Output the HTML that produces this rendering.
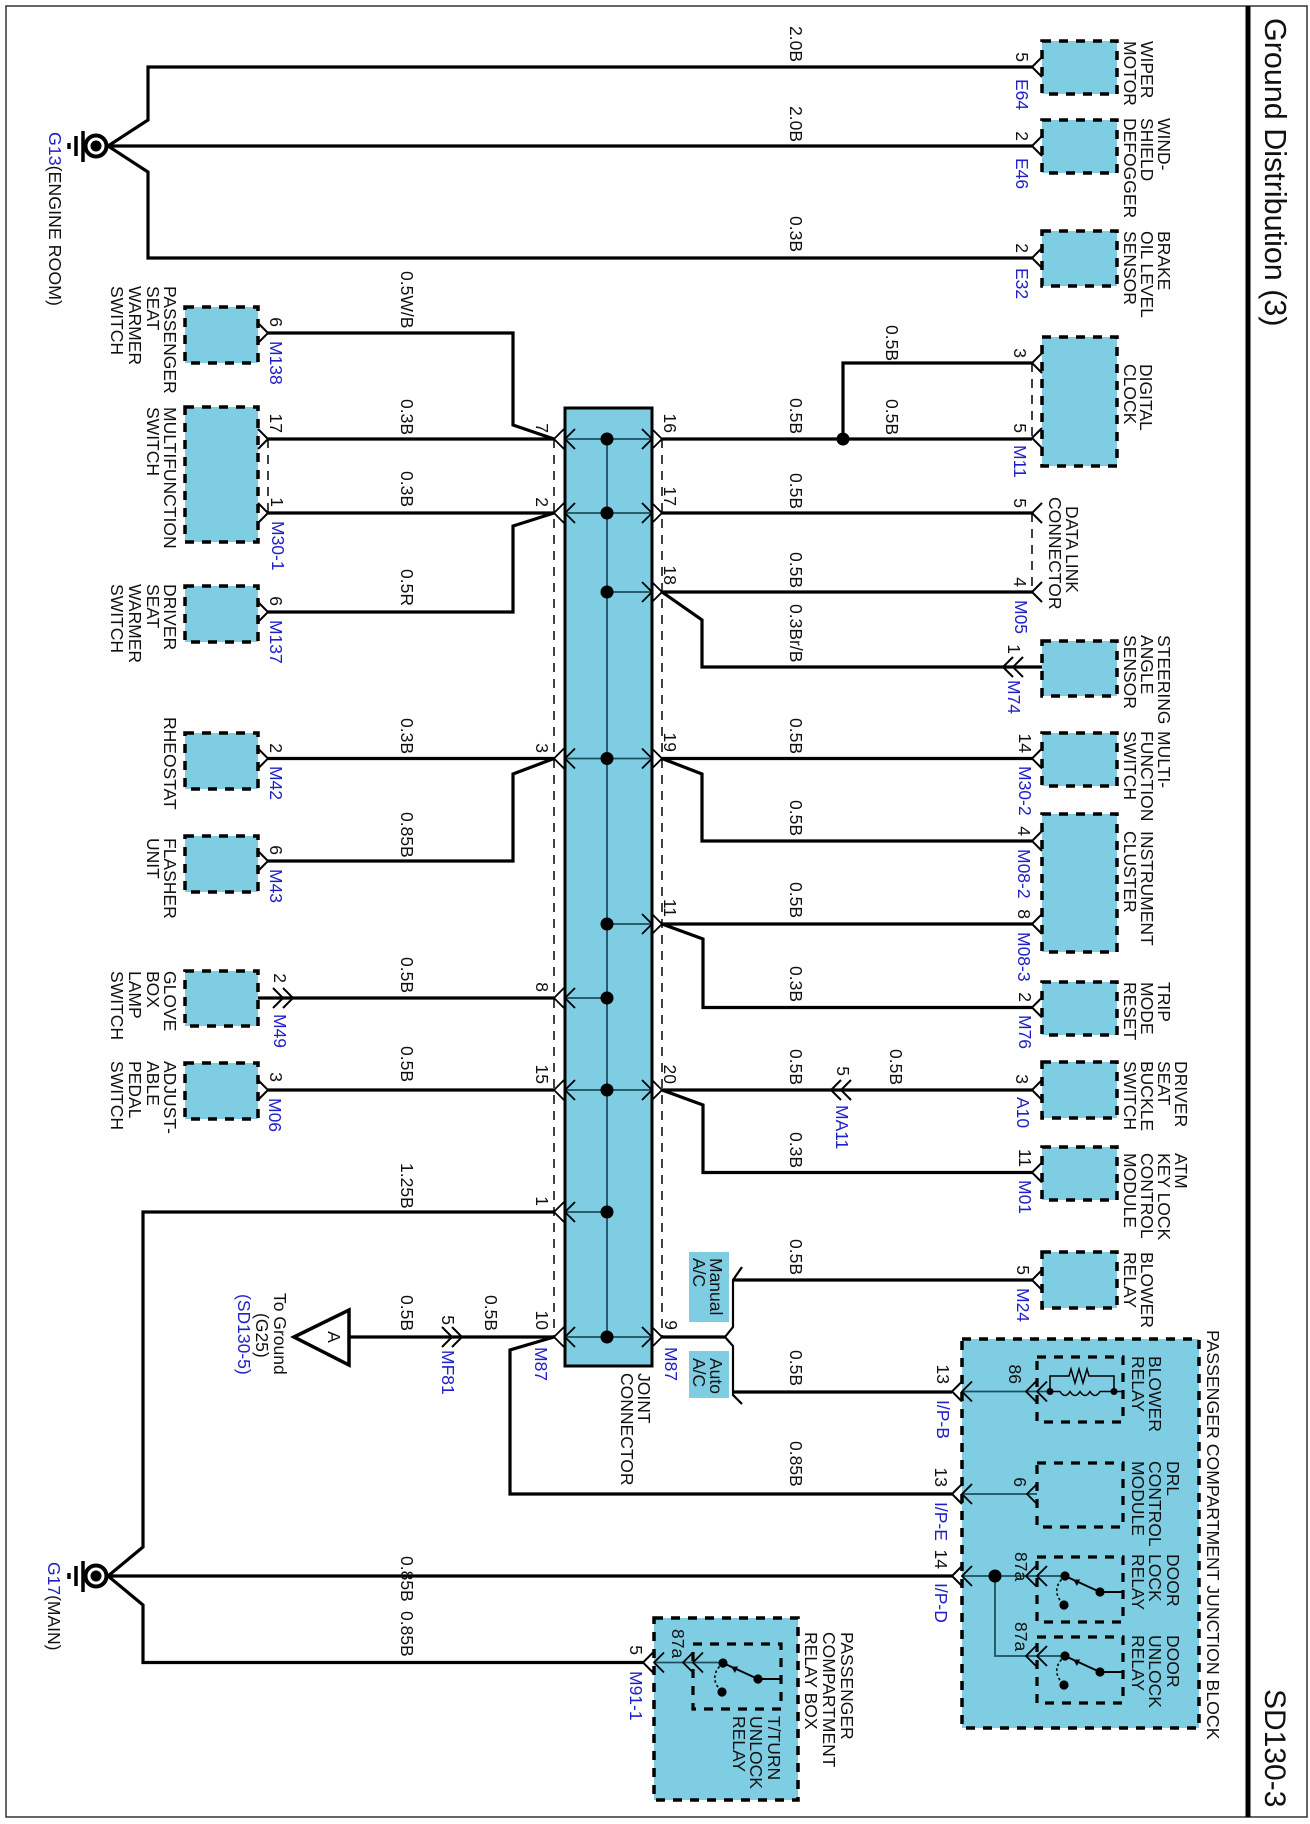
<!DOCTYPE html>
<html><head><meta charset="utf-8"><title>Ground Distribution (3)</title>
<style>
html,body{margin:0;padding:0;background:#fff}
svg{display:block}
text{font-family:"Liberation Sans",sans-serif;font-size:17.5px;fill:#111}
.b{fill:#2020c8}
.e{text-anchor:end}
.m{text-anchor:middle}
.w{fill:none;stroke:#000;stroke-width:3.2;stroke-linejoin:miter}
.t{fill:none;stroke:#1d4f60;stroke-width:1.8}
.k{fill:none;stroke:#000;stroke-width:1.8}
.p{fill:none;stroke:#000;stroke-width:2}
.d{fill:none;stroke:#000;stroke-width:1.5;stroke-dasharray:9 7}
.x{fill:#7fcde3;stroke:#000;stroke-width:3.5;stroke-dasharray:9 8}
.y{fill:none;stroke:#000;stroke-width:3.2;stroke-dasharray:9 8}
</style></head><body>
<svg width="1310" height="1824" viewBox="0 0 1310 1824" xmlns="http://www.w3.org/2000/svg">
<defs>
<path id="c" d="M10,-10L0,0L10,10"/>
<path id="r" d="M-10,-10L0,0L-10,10"/>
<g id="rl">
<path d="M35,16H58M0,0L35,16" fill="none" stroke="#000" stroke-width="2"/>
<path d="M0,0Q-16,14 -1,29" fill="none" stroke="#000" stroke-width="1.6" stroke-dasharray="2.5 2.5"/>
<path d="M8,3.6L15,3.5L12,10Z" fill="#000"/>
<circle cx="0" cy="0" r="4.6" fill="#000"/><circle cx="35" cy="16" r="4.6" fill="#000"/><circle cx="-1" cy="29" r="4.6" fill="#000"/>
</g>
<g id="gnd">
<circle cx="0" cy="0" r="10.5" fill="#fff" stroke="#000" stroke-width="4"/><circle cx="0" cy="0" r="5.5" fill="#000"/>
<path d="M-13,-15V16M-20,-10V10M-27,-3V3" fill="none" stroke="#000" stroke-width="3.5"/>
</g>
</defs>
<rect width="1310" height="1824" fill="#fff"/>
<rect x="6" y="6" width="1301" height="1811" fill="none" stroke="#333" stroke-width="1.5"/>
<rect x="1245.5" y="6" width="5" height="1811" fill="#000"/>
<text style="font-size:30.5px" transform="translate(1265 18)rotate(90)">Ground Distribution (3)</text>
<text style="font-size:30px" transform="translate(1265 1689)rotate(90)">SD130-3</text>

<!-- boxes right -->
<g class="x">
<rect x="1042" y="41" width="75" height="53"/>
<rect x="1042" y="120" width="75" height="53"/>
<rect x="1042" y="231" width="75" height="55"/>
<rect x="1042" y="337" width="75" height="129"/>
<rect x="1042" y="641" width="75" height="55"/>
<rect x="1042" y="733" width="75" height="53"/>
<rect x="1042" y="814" width="75" height="138"/>
<rect x="1042" y="982" width="75" height="53"/>
<rect x="1042" y="1062" width="75" height="56"/>
<rect x="1042" y="1147" width="75" height="53"/>
<rect x="1042" y="1252" width="75" height="56"/>
<!-- boxes left -->
<rect x="185" y="307" width="73" height="56"/>
<rect x="185" y="407" width="73" height="135"/>
<rect x="185" y="586" width="73" height="56"/>
<rect x="185" y="733" width="73" height="56"/>
<rect x="185" y="836" width="73" height="56"/>
<rect x="185" y="971" width="73" height="55"/>
<rect x="185" y="1063" width="73" height="56"/>
<!-- block boxes -->
<rect x="962" y="1339" width="237" height="389"/>
<rect x="654" y="1618" width="144" height="182"/>
</g>
<g class="y">
<rect x="1037" y="1357" width="86" height="65"/>
<rect x="1037" y="1463" width="86" height="64"/>
<rect x="1037" y="1557" width="86" height="65"/>
<rect x="1037" y="1637" width="86" height="66"/>
<rect x="693" y="1644" width="88" height="65"/>
</g>
<rect x="689" y="1252" width="40" height="70" fill="#7fcde3"/>
<rect x="689" y="1351" width="40" height="47" fill="#7fcde3"/>

<!-- joint connector -->
<rect x="565" y="408" width="87" height="958" fill="#7fcde3" stroke="#000" stroke-width="3"/>
<path class="d" d="M554,439V1337M662,439V1337M268,439V513M1032,363V438M1032,513V592"/>
<path class="t" d="M607,439V1337M565,439H652M565,513H652M607,592H652M565,758.5H652M607,924H652M565,998H607M565,1090H652M565,1212H607M565,1337H652"/>
<g fill="#000">
<circle cx="607" cy="439" r="6.5"/><circle cx="607" cy="513" r="6.5"/><circle cx="607" cy="592" r="6.5"/><circle cx="607" cy="758.5" r="6.5"/><circle cx="607" cy="924" r="6.5"/><circle cx="607" cy="998" r="6.5"/><circle cx="607" cy="1090" r="6.5"/><circle cx="607" cy="1212" r="6.5"/><circle cx="607" cy="1337" r="6.5"/>
<circle cx="843" cy="439" r="6.5"/>
</g>
<g class="k">
<use href="#c" x="565" y="439"/><use href="#c" x="565" y="513"/><use href="#c" x="565" y="758.5"/><use href="#c" x="565" y="998"/><use href="#c" x="565" y="1090"/><use href="#c" x="565" y="1212"/><use href="#c" x="565" y="1337"/>
<use href="#c" x="554" y="439"/><use href="#c" x="554" y="513"/><use href="#c" x="554" y="758.5"/><use href="#c" x="554" y="998"/><use href="#c" x="554" y="1090"/><use href="#c" x="554" y="1212"/><use href="#c" x="554" y="1337"/>
<use href="#r" x="652" y="439"/><use href="#r" x="652" y="513"/><use href="#r" x="652" y="592"/><use href="#r" x="652" y="758.5"/><use href="#r" x="652" y="924"/><use href="#r" x="652" y="1090"/><use href="#r" x="652" y="1337"/>
<use href="#r" x="662" y="439"/><use href="#r" x="662" y="513"/><use href="#r" x="662" y="592"/><use href="#r" x="662" y="758.5"/><use href="#r" x="662" y="924"/><use href="#r" x="662" y="1090"/><use href="#r" x="662" y="1337"/>
</g>

<!-- wires -->
<g class="w">
<path d="M1032,67H148V120L108,146L148,172V258H1032M108,146H1032"/>
<path d="M268,333H513V425L554,439M268,439H554M268,513H554M268,612H513V526L554,513"/>
<path d="M268,758.5H554M268,861H513V774L554,758.5M258,998H554M268,1090H554"/>
<path d="M554,1212H143V1547L108,1576L143,1605V1662.5H643M108,1576H952"/>
<path d="M349,1337H554M554,1337L510,1350V1494H952"/>
<path d="M662,439H1032M843,439V363H1032M662,513H1032M662,592H1032M662,592L702,620V667H1042"/>
<path d="M662,758.5H1032M662,758.5L702,774V841H1032M662,924H1032M662,924L703,939V1007.5H1032M662,1090H1032M662,1090L703,1105V1172.5H1032"/>
<path d="M662,1337H725M733,1280H1032M733,1392H952"/>
</g>
<path d="M725,1337L733,1327V1280L742,1267M725,1337L733,1346V1395L742,1404" fill="none" stroke="#000" stroke-width="2.2"/>

<!-- ground symbols -->
<use href="#gnd" x="96" y="146"/>
<use href="#gnd" x="96" y="1576"/>
<!-- triangle -->
<path d="M294,1337L349,1310V1365Z" fill="#fff" stroke="#000" stroke-width="3.5"/>
<text class="m" transform="translate(322 1337)rotate(90)" dy="-6">A</text>

<!-- pins -->
<g class="p">
<use href="#c" x="1032" y="67"/><use href="#c" x="1032" y="146"/><use href="#c" x="1032" y="258"/><use href="#c" x="1032" y="363"/><use href="#c" x="1032" y="438"/><use href="#c" x="1032" y="513"/><use href="#c" x="1032" y="592"/>
<use href="#c" x="1032" y="758.5"/><use href="#c" x="1032" y="841"/><use href="#c" x="1032" y="924"/><use href="#c" x="1032" y="1007.5"/><use href="#c" x="1032" y="1090"/><use href="#c" x="1032" y="1172.5"/><use href="#c" x="1032" y="1280"/>
<use href="#r" x="268" y="333"/><use href="#r" x="268" y="439"/><use href="#r" x="268" y="513"/><use href="#r" x="268" y="612"/><use href="#r" x="268" y="758.5"/><use href="#r" x="268" y="861"/><use href="#r" x="268" y="1090"/>
<use href="#r" x="283" y="998"/><use href="#r" x="293" y="998"/>
<use href="#c" x="1003" y="667"/><use href="#c" x="1013" y="667"/>
<use href="#c" x="831" y="1090"/><use href="#c" x="841" y="1090"/>
<use href="#r" x="452" y="1337"/><use href="#r" x="462" y="1337"/>
<use href="#c" x="952" y="1391.5"/><use href="#c" x="952" y="1494"/><use href="#c" x="952" y="1576"/><use href="#c" x="643" y="1662.5"/>
</g>

<!-- junction block interior -->
<path class="t" d="M962,1391.5H1050M962,1494H1037M962,1576H1065M995,1576V1656H1065M654,1662.5H723"/>
<circle cx="995" cy="1576" r="6.5" fill="#000"/>
<g class="k">
<use href="#c" x="962" y="1391.5"/><use href="#c" x="962" y="1494"/><use href="#c" x="962" y="1576"/><use href="#c" x="654" y="1662.5"/>
<use href="#c" x="1026" y="1391.5"/><use href="#c" x="1037" y="1391.5"/>
<use href="#c" x="1027" y="1494"/>
<use href="#c" x="1026" y="1576"/><use href="#c" x="1037" y="1576"/>
<use href="#c" x="1026" y="1656"/><use href="#c" x="1037" y="1656"/>
<use href="#c" x="683" y="1662.5"/><use href="#c" x="693" y="1662.5"/>
</g>
<path d="M1050,1391.5H1060q5,8 10,0q5,8 10,0q5,8 10,0q5,8 10,0H1123" fill="none" stroke="#000" stroke-width="1.5"/>
<path d="M1050,1391.5V1376H1069l2,-7l4,14l4,-14l4,14l4,-14l2,7H1114V1391.5" fill="none" stroke="#000" stroke-width="1.5"/>
<circle cx="1050" cy="1391.5" r="3.5" fill="#000"/><circle cx="1114" cy="1391.5" r="3.5" fill="#000"/>
<use href="#rl" x="1065" y="1576"/>
<use href="#rl" x="1065" y="1656"/>
<use href="#rl" x="723" y="1663"/>

<!-- wire labels, right column -->
<text transform="translate(790 26)rotate(90)">2.0B</text>
<text transform="translate(790 106)rotate(90)">2.0B</text>
<text transform="translate(790 216)rotate(90)">0.3B</text>
<text transform="translate(790 398)rotate(90)">0.5B</text>
<text transform="translate(790 473)rotate(90)">0.5B</text>
<text transform="translate(790 552)rotate(90)">0.5B</text>
<text transform="translate(790 604)rotate(90)">0.3Br/B</text>
<text transform="translate(790 718)rotate(90)">0.5B</text>
<text transform="translate(790 800)rotate(90)">0.5B</text>
<text transform="translate(790 882)rotate(90)">0.5B</text>
<text transform="translate(790 966)rotate(90)">0.3B</text>
<text transform="translate(790 1049)rotate(90)">0.5B</text>
<text transform="translate(790 1132)rotate(90)">0.3B</text>
<text transform="translate(790 1239)rotate(90)">0.5B</text>
<text transform="translate(790 1350)rotate(90)">0.5B</text>
<text transform="translate(790 1441)rotate(90)">0.85B</text>
<text transform="translate(886 325)rotate(90)">0.5B</text>
<text transform="translate(886 399)rotate(90)">0.5B</text>
<text transform="translate(890 1049)rotate(90)">0.5B</text>
<!-- wire labels, left column -->
<text transform="translate(401 271)rotate(90)">0.5W/B</text>
<text transform="translate(401 399)rotate(90)">0.3B</text>
<text transform="translate(401 471)rotate(90)">0.3B</text>
<text transform="translate(401 569)rotate(90)">0.5R</text>
<text transform="translate(401 718)rotate(90)">0.3B</text>
<text transform="translate(401 812)rotate(90)">0.85B</text>
<text transform="translate(401 957)rotate(90)">0.5B</text>
<text transform="translate(401 1046)rotate(90)">0.5B</text>
<text transform="translate(401 1163)rotate(90)">1.25B</text>
<text transform="translate(401 1295)rotate(90)">0.5B</text>
<text transform="translate(485 1295)rotate(90)">0.5B</text>
<text transform="translate(401 1556)rotate(90)">0.85B</text>
<text transform="translate(401 1611)rotate(90)">0.85B</text>

<!-- joint pin numbers -->
<g class="e">
<text transform="translate(536 433)rotate(90)">7</text>
<text transform="translate(536 507)rotate(90)">2</text>
<text transform="translate(536 753)rotate(90)">3</text>
<text transform="translate(536 992)rotate(90)">8</text>
<text transform="translate(536 1084)rotate(90)">15</text>
<text transform="translate(536 1206)rotate(90)">1</text>
<text transform="translate(536 1330)rotate(90)">10</text>
<text transform="translate(664 433)rotate(90)">16</text>
<text transform="translate(664 506)rotate(90)">17</text>
<text transform="translate(664 585)rotate(90)">18</text>
<text transform="translate(664 752)rotate(90)">19</text>
<text transform="translate(664 917)rotate(90)">11</text>
<text transform="translate(664 1084)rotate(90)">20</text>
<text transform="translate(665 1330)rotate(90)">9</text>
<!-- right pins -->
<text transform="translate(1016 62)rotate(90)">5</text>
<text transform="translate(1016 141)rotate(90)">2</text>
<text transform="translate(1016 253)rotate(90)">2</text>
<text transform="translate(1014 358)rotate(90)">3</text>
<text transform="translate(1014 433)rotate(90)">5</text>
<text transform="translate(1014 508)rotate(90)">5</text>
<text transform="translate(1014 587)rotate(90)">4</text>
<text transform="translate(1008 654)rotate(90)">1</text>
<text transform="translate(1019 753)rotate(90)">14</text>
<text transform="translate(1018 836)rotate(90)">4</text>
<text transform="translate(1018 919)rotate(90)">8</text>
<text transform="translate(1019 1002)rotate(90)">2</text>
<text transform="translate(1016 1084)rotate(90)">3</text>
<text transform="translate(1019 1167)rotate(90)">11</text>
<text transform="translate(1017 1275)rotate(90)">5</text>
<!-- left pins -->
<text transform="translate(270 327)rotate(90)">6</text>
<text transform="translate(270 433)rotate(90)">17</text>
<text transform="translate(271 507)rotate(90)">1</text>
<text transform="translate(270 606)rotate(90)">6</text>
<text transform="translate(270 753)rotate(90)">2</text>
<text transform="translate(270 855)rotate(90)">6</text>
<text transform="translate(274 983)rotate(90)">2</text>
<text transform="translate(270 1082)rotate(90)">3</text>
<!-- others -->
<text transform="translate(442 1325)rotate(90)">5</text>
<text transform="translate(837 1076)rotate(90)">5</text>
<text transform="translate(937 1384)rotate(90)">13</text>
<text transform="translate(935 1487)rotate(90)">13</text>
<text transform="translate(935 1569)rotate(90)">14</text>
<text transform="translate(1009 1384)rotate(90)">86</text>
<text transform="translate(1014 1487)rotate(90)">6</text>
<text transform="translate(630 1655)rotate(90)">5</text>
</g>
<text transform="translate(1015 1552)rotate(90)">87a</text>
<text transform="translate(1015 1622)rotate(90)">87a</text>
<text transform="translate(672 1629)rotate(90)">87a</text>

<!-- blue connector codes -->
<g class="b">
<text class="b" transform="translate(1016 79)rotate(90)">E64</text>
<text class="b" transform="translate(1016 158)rotate(90)">E46</text>
<text class="b" transform="translate(1016 268)rotate(90)">E32</text>
<text class="b" transform="translate(1014 445)rotate(90)">M11</text>
<text class="b" transform="translate(1015 600)rotate(90)">M05</text>
<text class="b" transform="translate(1008 680)rotate(90)">M74</text>
<text class="b" transform="translate(1019 766)rotate(90)">M30-2</text>
<text class="b" transform="translate(1018 849)rotate(90)">M08-2</text>
<text class="b" transform="translate(1018 932)rotate(90)">M08-3</text>
<text class="b" transform="translate(1019 1015)rotate(90)">M76</text>
<text class="b" transform="translate(1017 1097)rotate(90)">A10</text>
<text class="b" transform="translate(1019 1180)rotate(90)">M01</text>
<text class="b" transform="translate(1017 1288)rotate(90)">M24</text>
<text class="b" transform="translate(270 341)rotate(90)">M138</text>
<text class="b" transform="translate(272 521)rotate(90)">M30-1</text>
<text class="b" transform="translate(270 620)rotate(90)">M137</text>
<text class="b" transform="translate(270 766)rotate(90)">M42</text>
<text class="b" transform="translate(270 869)rotate(90)">M43</text>
<text class="b" transform="translate(274 1014)rotate(90)">M49</text>
<text class="b" transform="translate(269 1098)rotate(90)">M06</text>
<text class="b" transform="translate(442 1350)rotate(90)">MF81</text>
<text class="b" transform="translate(836 1105)rotate(90)">MA11</text>
<text class="b" transform="translate(535 1347)rotate(90)">M87</text>
<text class="b" transform="translate(665 1347)rotate(90)">M87</text>
<text class="b" transform="translate(937 1400)rotate(90)">I/P-B</text>
<text class="b" transform="translate(935 1502)rotate(90)">I/P-E</text>
<text class="b" transform="translate(935 1583)rotate(90)">I/P-D</text>
<text class="b" transform="translate(630 1671)rotate(90)">M91-1</text>
<text class="b" transform="translate(238 1294)rotate(90)">(SD130-5)</text>
</g>
<text style="font-size:17.8px" transform="translate(49 132)rotate(90)"><tspan class="b">G13</tspan>(ENGINE ROOM)</text>
<text transform="translate(48 1562)rotate(90)"><tspan class="b">G17</tspan>(MAIN)</text>
<text transform="translate(274 1293)rotate(90)">To Ground</text>
<text transform="translate(256 1313)rotate(90)">(G25)</text>

<!-- component names, right -->
<text transform="translate(1141 41)rotate(90)">WIPER</text><text transform="translate(1124 41)rotate(90)">MOTOR</text>
<text transform="translate(1158 118)rotate(90)">WIND-</text><text transform="translate(1141 118)rotate(90)">SHIELD</text><text transform="translate(1124 118)rotate(90)">DEFOGGER</text>
<text transform="translate(1158 231)rotate(90)">BRAKE</text><text transform="translate(1141 231)rotate(90)">OIL LEVEL</text><text transform="translate(1124 231)rotate(90)">SENSOR</text>
<text transform="translate(1140 364)rotate(90)">DIGITAL</text><text transform="translate(1124 364)rotate(90)">CLOCK</text>
<text transform="translate(1066 506)rotate(90)">DATA LINK</text><text transform="translate(1049 497)rotate(90)">CONNECTOR</text>
<text transform="translate(1158 635)rotate(90)">STEERING</text><text transform="translate(1141 635)rotate(90)">ANGLE</text><text transform="translate(1124 635)rotate(90)">SENSOR</text>
<text transform="translate(1158 731)rotate(90)">MULTI-</text><text transform="translate(1141 731)rotate(90)">FUNCTION</text><text transform="translate(1124 731)rotate(90)">SWITCH</text>
<text transform="translate(1141 831)rotate(90)">INSTRUMENT</text><text transform="translate(1124 831)rotate(90)">CLUSTER</text>
<text transform="translate(1158 982)rotate(90)">TRIP</text><text transform="translate(1141 982)rotate(90)">MODE</text><text transform="translate(1124 982)rotate(90)">RESET</text>
<text transform="translate(1175 1061)rotate(90)">DRIVER</text><text transform="translate(1158 1061)rotate(90)">SEAT</text><text transform="translate(1141 1061)rotate(90)">BUCKLE</text><text transform="translate(1124 1061)rotate(90)">SWITCH</text>
<text transform="translate(1175 1153)rotate(90)">ATM</text><text transform="translate(1158 1153)rotate(90)">KEY LOCK</text><text transform="translate(1141 1153)rotate(90)">CONTROL</text><text transform="translate(1124 1153)rotate(90)">MODULE</text>
<text transform="translate(1141 1252)rotate(90)">BLOWER</text><text transform="translate(1124 1252)rotate(90)">RELAY</text>
<!-- component names, left -->
<text transform="translate(164 286)rotate(90)">PASSENGER</text><text transform="translate(147 286)rotate(90)">SEAT</text><text transform="translate(129 286)rotate(90)">WARMER</text><text transform="translate(111 286)rotate(90)">SWITCH</text>
<text transform="translate(164 407)rotate(90)">MULTIFUNCTION</text><text transform="translate(147 407)rotate(90)">SWITCH</text>
<text transform="translate(164 584)rotate(90)">DRIVER</text><text transform="translate(147 584)rotate(90)">SEAT</text><text transform="translate(129 584)rotate(90)">WARMER</text><text transform="translate(111 584)rotate(90)">SWITCH</text>
<text transform="translate(164 717)rotate(90)">RHEOSTAT</text>
<text transform="translate(164 838)rotate(90)">FLASHER</text><text transform="translate(147 838)rotate(90)">UNIT</text>
<text transform="translate(164 971)rotate(90)">GLOVE</text><text transform="translate(147 971)rotate(90)">BOX</text><text transform="translate(129 971)rotate(90)">LAMP</text><text transform="translate(111 971)rotate(90)">SWITCH</text>
<text transform="translate(164 1061)rotate(90)">ADJUST-</text><text transform="translate(147 1061)rotate(90)">ABLE</text><text transform="translate(129 1061)rotate(90)">PEDAL</text><text transform="translate(111 1061)rotate(90)">SWITCH</text>
<text transform="translate(638 1373)rotate(90)">JOINT</text><text transform="translate(621 1373)rotate(90)">CONNECTOR</text>
<text transform="translate(710 1258)rotate(90)">Manual</text><text transform="translate(693 1258)rotate(90)">A/C</text>
<text transform="translate(710 1358)rotate(90)">Auto</text><text transform="translate(693 1358)rotate(90)">A/C</text>
<!-- junction block names -->
<text style="font-size:17.7px" transform="translate(1207 1330)rotate(90)">PASSENGER COMPARTMENT JUNCTION BLOCK</text>
<text transform="translate(1149 1356)rotate(90)">BLOWER</text><text transform="translate(1132 1356)rotate(90)">RELAY</text>
<text transform="translate(1167 1461)rotate(90)">DRL</text><text transform="translate(1149 1461)rotate(90)">CONTROL</text><text transform="translate(1132 1461)rotate(90)">MODULE</text>
<text transform="translate(1167 1554)rotate(90)">DOOR</text><text transform="translate(1149 1554)rotate(90)">LOCK</text><text transform="translate(1132 1554)rotate(90)">RELAY</text>
<text transform="translate(1167 1635)rotate(90)">DOOR</text><text transform="translate(1149 1635)rotate(90)">UNLOCK</text><text transform="translate(1132 1635)rotate(90)">RELAY</text>
<text transform="translate(768 1716)rotate(90)">T/TURN</text><text transform="translate(750 1716)rotate(90)">UNLOCK</text><text transform="translate(733 1716)rotate(90)">RELAY</text>
<text transform="translate(841 1632)rotate(90)">PASSENGER</text><text transform="translate(823 1632)rotate(90)">COMPARTMENT</text><text transform="translate(805 1632)rotate(90)">RELAY BOX</text>
</svg>
</body></html>
